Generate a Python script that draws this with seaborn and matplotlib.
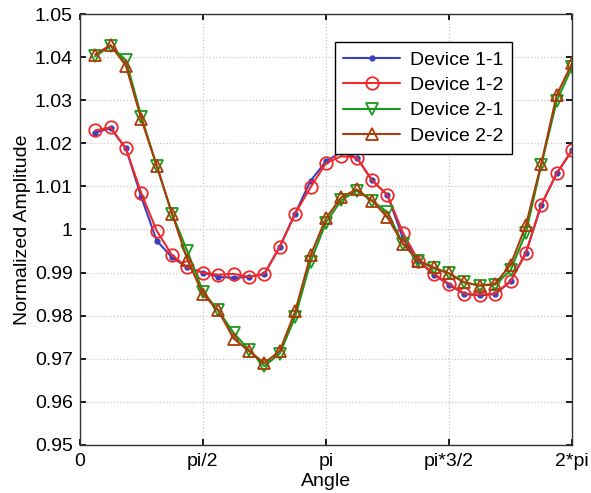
import numpy as np
import pandas as pd
import matplotlib
matplotlib.use("Agg")
import matplotlib.pyplot as plt
import seaborn as sns

sns.set_theme(style="white")
plt.rcParams['font.family'] = ['Liberation Sans', 'DejaVu Sans']
plt.rcParams['text.color'] = 'black'
plt.rcParams['axes.labelcolor'] = 'black'

k = np.arange(1, 33)
angle = k * np.pi / 16

dev_1_1 = [1.0225, 1.0235, 1.0188, 1.0075, 0.9974, 0.9935, 0.9912, 0.9900, 0.9890, 0.9888,
           0.9890, 0.9897, 0.9960, 1.0037, 1.0113, 1.0158, 1.0180, 1.0167, 1.0114, 1.0080,
           0.9980, 0.9928, 0.9895, 0.9872, 0.9850, 0.9847, 0.9850, 0.9880, 0.9946, 1.0057,
           1.0130, 1.0184]
dev_1_2 = [1.0230, 1.0237, 1.0188, 1.0084, 0.9997, 0.9940, 0.9912, 0.9900, 0.9895, 0.9897,
           0.9890, 0.9897, 0.9960, 1.0037, 1.0098, 1.0154, 1.0170, 1.0167, 1.0114, 1.0080,
           0.9993, 0.9928, 0.9897, 0.9874, 0.9851, 0.9849, 0.9851, 0.9880, 0.9946, 1.0058,
           1.0130, 1.0184]
dev_2_1 = [1.0402, 1.0426, 1.0393, 1.0262, 1.0148, 1.0036, 0.9949, 0.9856, 0.9812, 0.9760,
           0.9720, 0.9683, 0.9712, 0.9797, 0.9925, 1.0016, 1.0068, 1.0090, 1.0067, 1.0040,
           0.9967, 0.9928, 0.9910, 0.9898, 0.9877, 0.9870, 0.9872, 0.9905, 0.9993, 1.0150,
           1.0298, 1.0377]
dev_2_2 = [1.0406, 1.0428, 1.0380, 1.0256, 1.0148, 1.0036, 0.9930, 0.9850, 0.9812, 0.9747,
           0.9718, 0.9690, 0.9718, 0.9810, 0.9940, 1.0026, 1.0075, 1.0093, 1.0067, 1.0028,
           0.9967, 0.9928, 0.9912, 0.9898, 0.9877, 0.9870, 0.9874, 0.9918, 1.0010, 1.0153,
           1.0312, 1.0386]

labels = ["Device 1-1", "Device 1-2", "Device 2-1", "Device 2-2"]
xtick_labels = ["0", "pi/2", "pi", "pi*3/2", "2*pi"]

fig = plt.figure(figsize=(5.91, 4.93), dpi=100)
ax = fig.add_axes([0.135, 0.0975, 0.833, 0.874])

styles = [
    dict(color="#3a3fc0", marker="o", markersize=3.5, mfc="#3a3fc0", mec="#3a3fc0"),
    dict(color="#f02a2a", marker="o", markersize=9, mfc="none", mec="#f02a2a", mew=1.3),
    dict(color="#1a9a1a", marker="v", markersize=9, mfc="none", mec="#1a9a1a", mew=1.3),
    dict(color="#a83c0a", marker="^", markersize=9, mfc="none", mec="#a83c0a", mew=1.3),
]
for data, lab, st in zip([dev_1_1, dev_1_2, dev_2_1, dev_2_2], labels, styles):
    sns.lineplot(x=angle, y=data, ax=ax, label=lab, color=st["color"], linewidth=1.5,
                 marker=st["marker"], markersize=st["markersize"],
                 markerfacecolor=st["mfc"], markeredgecolor=st["mec"],
                 markeredgewidth=st.get("mew", 1.0))

ax.set_xlim(0, 2 * np.pi)
ax.set_ylim(0.95, 1.05)
ax.set_xticks([0, np.pi / 2, np.pi, 3 * np.pi / 2, 2 * np.pi])
ax.set_xticklabels(xtick_labels)
ax.set_yticks(np.round(np.arange(0.95, 1.0501, 0.01), 2))
ax.set_yticklabels(["0.95", "0.96", "0.97", "0.98", "0.99", "1", "1.01", "1.02", "1.03", "1.04", "1.05"])
ax.grid(True, linestyle=":", color="#c8c8c8", linewidth=0.9)
ax.tick_params(direction="in", length=4, labelsize=14, colors="black", labelcolor="black",
               top=True, right=True, bottom=True, left=True)
ax.tick_params(axis="x", pad=6)
ax.tick_params(axis="y", pad=5)
for s in ax.spines.values():
    s.set_color("#333333")
    s.set_linewidth(1.0)
ax.set_xlabel("Angle", fontsize=14, labelpad=2)
ax.set_ylabel("Normalized Amplitude", fontsize=14, labelpad=3)

leg = ax.legend(loc="upper right", bbox_to_anchor=(0.897, 0.957), fontsize=14,
                frameon=True, fancybox=False, edgecolor="black", framealpha=1,
                handlelength=2.9, borderpad=0.45, labelspacing=0.4, handletextpad=0.5)
leg.get_frame().set_linewidth(1.0)

fig.savefig("out.png", dpi=100)
